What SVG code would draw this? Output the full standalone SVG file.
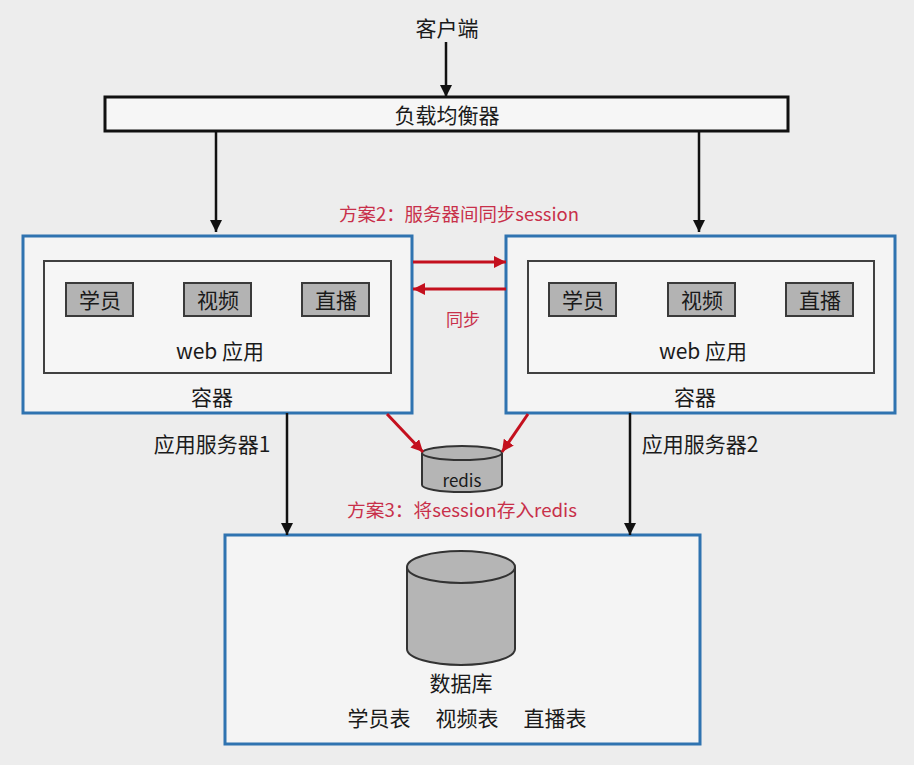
<svg xmlns="http://www.w3.org/2000/svg" width="914" height="765" viewBox="0 0 914 765">
<defs>
<style>
text{font-family:"Noto Sans CJK SC","Liberation Sans",sans-serif;fill:#1a1a1a;text-anchor:middle;dominant-baseline:central}
.t20{font-size:20px}
.t21{font-size:21px}
.red{fill:#c8304a;font-size:18px}
.srv{fill:#f4f4f4;stroke:#2f73b0;stroke-width:3}
.app{fill:#f6f6f6;stroke:#404040;stroke-width:2}
.mod{fill:#b3b3b3;stroke:#3a3a3a;stroke-width:2}
.blk{stroke:#111;stroke-width:2.5;fill:none;marker-end:url(#ab)}
.rd{stroke:#c4101e;stroke-width:3;fill:none;marker-end:url(#ar)}
.cyl{fill:#b5b5b5;stroke:#333;stroke-width:2}
</style>
<marker id="ab" viewBox="0 0 10 10" refX="10" refY="5" markerWidth="5" markerHeight="5" orient="auto" markerUnits="strokeWidth"><path d="M0,0 L10,5 L0,10 z" fill="#111"/></marker>
<marker id="ar" viewBox="0 0 10 10" refX="10" refY="5" markerWidth="4" markerHeight="4" orient="auto" markerUnits="strokeWidth"><path d="M0,0 L10,5 L0,10 z" fill="#c4101e"/></marker>
</defs>
<rect width="914" height="765" fill="#ededed"/>

<g id="client"><text class="t21" x="447" y="27">客户端</text></g>

<g id="lb">
<rect x="105" y="97" width="683" height="34" fill="#f6f6f6" stroke="#111" stroke-width="3"/>
<text class="t21" x="447" y="114">负载均衡器</text>
</g>

<g id="server1">
<rect class="srv" x="23" y="236" width="389" height="177"/>
<rect class="app" x="44" y="261" width="347" height="112"/>
<rect class="mod" x="66" y="283" width="67" height="33"/>
<rect class="mod" x="184" y="283" width="67" height="33"/>
<rect class="mod" x="302" y="283" width="67" height="33"/>
<text class="t21" x="100" y="299">学员</text>
<text class="t21" x="218" y="299">视频</text>
<text class="t21" x="336" y="299">直播</text>
<text class="t21" x="220" y="350">web 应用</text>
<text class="t21" x="212" y="396">容器</text>
</g>

<g id="server2">
<rect class="srv" x="506" y="236" width="389" height="177"/>
<rect class="app" x="528" y="261" width="346" height="112"/>
<rect class="mod" x="549" y="283" width="67" height="33"/>
<rect class="mod" x="668" y="283" width="67" height="33"/>
<rect class="mod" x="786" y="283" width="67" height="33"/>
<text class="t21" x="583" y="299">学员</text>
<text class="t21" x="702" y="299">视频</text>
<text class="t21" x="820" y="299">直播</text>
<text class="t21" x="703" y="350">web 应用</text>
<text class="t21" x="695" y="396">容器</text>
</g>

<g id="redis">
<path class="cyl" d="M422,453 L422,485 A40,7 0 0 0 502,485 L502,453"/>
<ellipse class="cyl" cx="462" cy="453" rx="40" ry="7"/>
<text x="462" y="479" style="font-size:17px">redis</text>
</g>

<g id="db">
<rect class="srv" x="225" y="535" width="475" height="209"/>
<path class="cyl" d="M407,567 L407,649 A54,16 0 0 0 515,649 L515,567"/>
<ellipse class="cyl" cx="461" cy="567" rx="54" ry="16"/>
<text class="t21" x="461" y="682">数据库</text>
<text class="t21" x="379" y="717">学员表</text>
<text class="t21" x="467" y="717">视频表</text>
<text class="t21" x="555" y="717">直播表</text>
</g>

<g id="labels">
<text class="red" x="459" y="213" textLength="240" lengthAdjust="spacingAndGlyphs">方案2：服务器间同步session</text>
<text class="red" x="463" y="318" style="font-size:17px">同步</text>
<text class="red" x="462" y="509" textLength="230" lengthAdjust="spacingAndGlyphs">方案3：将session存入redis</text>
<text class="t21" x="212" y="443">应用服务器1</text>
<text class="t21" x="700" y="443">应用服务器2</text>
</g>

<g id="connectors">
<line class="blk" x1="446" y1="42" x2="446" y2="97"/>
<line class="blk" x1="216" y1="131" x2="216" y2="232"/>
<line class="blk" x1="699" y1="131" x2="699" y2="232"/>
<line class="blk" x1="287" y1="413" x2="287" y2="535"/>
<line class="blk" x1="630" y1="413" x2="630" y2="535"/>
<line class="rd" x1="413" y1="262" x2="506" y2="262"/>
<line class="rd" x1="506" y1="289" x2="413" y2="289"/>
<line class="rd" x1="387" y1="414" x2="423" y2="452"/>
<line class="rd" x1="528" y1="414" x2="502" y2="452"/>
</g>
</svg>
